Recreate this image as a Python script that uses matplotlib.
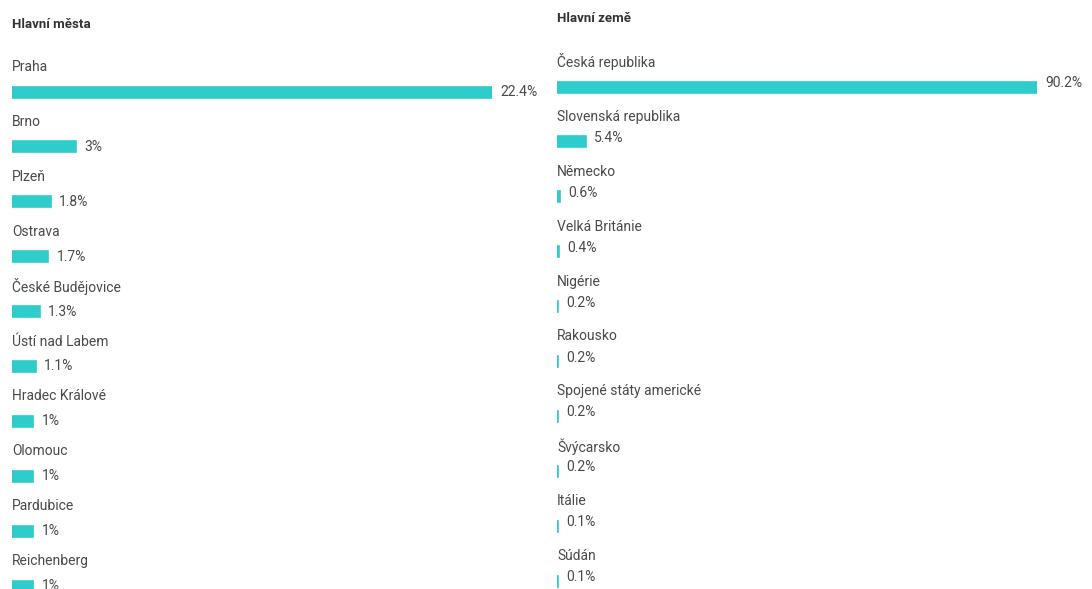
import matplotlib
matplotlib.use("Agg")
import matplotlib.pyplot as plt

plt.rcParams['font.family'] = ['Roboto', 'DejaVu Sans']

# data
mesta = ["Praha", "Brno", "Plzeň", "Ostrava", "České Budějovice", "Ústí nad Labem",
         "Hradec Králové", "Olomouc", "Pardubice", "Reichenberg"]
mesta_pct = [22.4, 3, 1.8, 1.7, 1.3, 1.1, 1, 1, 1, 1]
mesta_lbl = ["22.4%", "3%", "1.8%", "1.7%", "1.3%", "1.1%", "1%", "1%", "1%", "1%"]

zeme = ["Česká republika", "Slovenská republika", "Německo", "Velká Británie", "Nigérie",
        "Rakousko", "Spojené státy americké", "Švýcarsko", "Itálie", "Súdán"]
zeme_pct = [90.2, 5.4, 0.6, 0.4, 0.2, 0.2, 0.2, 0.2, 0.1, 0.1]
zeme_lbl = ["90.2%", "5.4%", "0.6%", "0.4%", "0.2%", "0.2%", "0.2%", "0.2%", "0.1%", "0.1%"]

W, H = 1092, 589
TEAL = "#2ECDCB"
TXT = "#4a4a4a"
STEP = 54.9

fig = plt.figure(figsize=(W / 100, H / 100), dpi=100)


def panel(left, title, title_y, names, vals, labels, first_label_y, lbl_dy):
    ax = fig.add_axes([left / W, 0, 480 / W, 1])
    ax.set_xlim(0, max(vals))
    ax.set_ylim(H, 0)
    ax.axis("off")
    ax.text(0, title_y, title, fontsize=9.5, fontweight="bold", color="#333333",
            va="center", ha="left", clip_on=False)
    for i, (n, v, l) in enumerate(zip(names, vals, labels)):
        y = first_label_y + STEP * i
        by = y + 25
        ax.text(0, y, n, fontsize=10, color=TXT, va="center", ha="left")
        ax.barh(by, v, height=11, color=TEAL, edgecolor=TEAL, linewidth=1.2, left=0)
        ax.annotate(l, (v, by + lbl_dy), xytext=(6, 0), textcoords="offset points",
                    fontsize=10, color=TXT, va="center", ha="left", annotation_clip=False)
    return ax


panel(12, "Hlavní města", 25, mesta, mesta_pct, mesta_lbl, 67, 0)
panel(557, "Hlavní země", 18, zeme, zeme_pct, zeme_lbl, 62, -4)

fig.savefig("out.png", dpi=100, facecolor="white")
